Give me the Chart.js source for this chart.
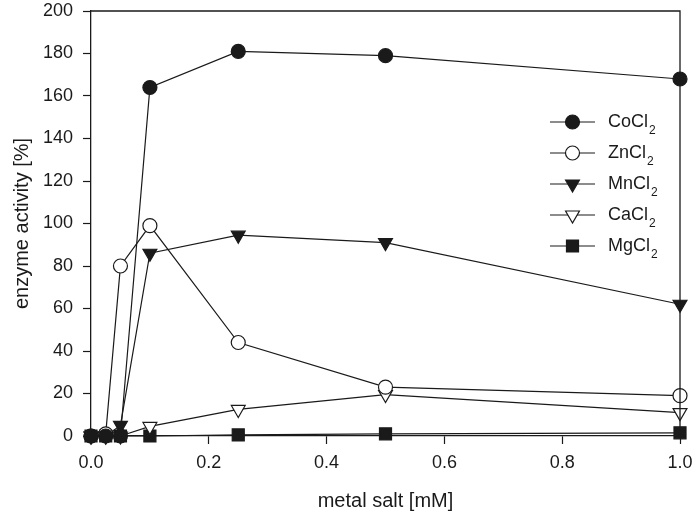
<!DOCTYPE html>
<html lang="en">
<head>
    <title>Enzyme activity vs metal salt</title>
    <script src="https://cdn.jsdelivr.net/npm/chart.js"></script>
    <style>
        html, body { margin: 0; padding: 0; background: #fff; }
        #wrap { width: 698px; height: 516px; }
    </style>
</head>
<body>
    <div id="wrap"><canvas id="myChart" width="698" height="516"></canvas></div>
    <script>
        // metal salt concentration [mM]
        var conc = [0, 0.025, 0.05, 0.1, 0.25, 0.5, 1.0];

        // enzyme activity [%] for each salt
        var coCl2 = [0, 0, 0, 164, 181, 179, 168];
        var znCl2 = [0, 1, 80, 99, 44, 23, 19];
        var mnCl2 = [0, 0, 5, 86, 94.5, 91, 62];
        var caCl2 = [0, 0, 0, 4.5, 12.5, 19.5, 11];
        var mgCl2 = [0, 0, 0, 0, 0.5, 1, 1.5];

        var saltNames = ["CoCl", "ZnCl", "MnCl", "CaCl", "MgCl"];

        var xTicks = [0, 0.2, 0.4, 0.6, 0.8, 1.0];
        var yTicks = [0, 20, 40, 60, 80, 100, 120, 140, 160, 180, 200];

        var FONT = "'Liberation Sans', Arial, Helvetica, sans-serif";
        var INK = "#1a1a1a";

        function pts(ys) {
            return conc.map(function (x, i) { return { x: x, y: ys[i] }; });
        }

        function series(name, ys, style, fill, radius, rot) {
            return {
                label: name,
                data: pts(ys),
                showLine: true,
                borderColor: INK,
                borderWidth: 1.2,
                pointStyle: style,
                pointRadius: radius,
                pointHoverRadius: radius,
                pointRotation: rot,
                pointBackgroundColor: fill,
                pointBorderColor: INK,
                pointBorderWidth: 1.2,
                clip: false
            };
        }

        // frame on top and right of the plot
        var boxPlugin = {
            id: "box",
            afterDraw: function (chart) {
                var a = chart.chartArea, ctx = chart.ctx;
                ctx.save();
                ctx.strokeStyle = INK;
                ctx.lineWidth = 1.3;
                ctx.beginPath();
                ctx.moveTo(a.left, a.top);
                ctx.lineTo(a.right, a.top);
                ctx.lineTo(a.right, a.bottom);
                ctx.stroke();
                ctx.restore();
            }
        };

        // legend: line through marker, name with subscript 2
        var legendPlugin = {
            id: "saltLegend",
            afterDraw: function (chart) {
                var a = chart.chartArea, ctx = chart.ctx;
                var x0 = a.right - 130, x1 = a.right - 85, tx = a.right - 72;
                ctx.save();
                chart.data.datasets.forEach(function (ds, i) {
                    var y = a.top + 111 + 31 * i;
                    ctx.strokeStyle = INK;
                    ctx.lineWidth = 1.2;
                    ctx.beginPath();
                    ctx.moveTo(x0, y);
                    ctx.lineTo(x1, y);
                    ctx.stroke();
                    ctx.fillStyle = ds.pointBackgroundColor;
                    ctx.strokeStyle = INK;
                    ctx.lineWidth = 1.2;
                    Chart.helpers.drawPoint(ctx, {
                        pointStyle: ds.pointStyle,
                        rotation: ds.pointRotation,
                        radius: ds.pointRadius,
                        borderWidth: 1.2
                    }, (x0 + x1) / 2, y);
                    ctx.fillStyle = INK;
                    ctx.textBaseline = "middle";
                    ctx.font = "18px " + FONT;
                    ctx.fillText(saltNames[i], tx, y);
                    var w = ctx.measureText(saltNames[i]).width;
                    ctx.font = "12px " + FONT;
                    ctx.fillText("2", tx + w + 1, y + 9);
                });
                ctx.restore();
            }
        };

        var ctx = document.getElementById("myChart").getContext("2d");
        var myChart = new Chart(ctx, {
            type: "scatter",
            data: {
                datasets: [
                    series("CoCl2", coCl2, "circle", INK, 7, 0),
                    series("ZnCl2", znCl2, "circle", "#ffffff", 7, 0),
                    series("MnCl2", mnCl2, "triangle", INK, 8, 180),
                    series("CaCl2", caCl2, "triangle", "#ffffff", 8, 180),
                    series("MgCl2", mgCl2, "rect", INK, 8.5, 0)
                ]
            },
            options: {
                responsive: false,
                animation: false,
                layout: { padding: { top: 11, right: 18, left: 0, bottom: 0 } },
                plugins: {
                    legend: { display: false },
                    tooltip: { enabled: false }
                },
                scales: {
                    x: {
                        type: "linear",
                        min: 0,
                        max: 1,
                        afterBuildTicks: function (s) {
                            s.ticks = xTicks.map(function (v) { return { value: v }; });
                        },
                        afterFit: function (s) {
                            s.height = 80;
                            s.paddingLeft = 0;
                            s.paddingRight = 0;
                        },
                        grid: {
                            drawOnChartArea: false,
                            drawTicks: true,
                            tickLength: 8,
                            tickColor: INK,
                            tickWidth: 1.2
                        },
                        border: { color: INK, width: 1.3 },
                        ticks: {
                            padding: 8,
                            color: INK,
                            font: { family: FONT, size: 18 },
                            callback: function (v) { return v.toFixed(1); }
                        },
                        title: {
                            display: true,
                            text: "metal salt [mM]",
                            color: INK,
                            font: { family: FONT, size: 20 },
                            padding: { top: 4, bottom: 3 }
                        }
                    },
                    y: {
                        min: 0,
                        max: 200,
                        afterBuildTicks: function (s) {
                            s.ticks = yTicks.map(function (v) { return { value: v }; });
                        },
                        afterFit: function (s) {
                            s.width = 91;
                            s.paddingTop = 0;
                            s.paddingBottom = 0;
                        },
                        grid: {
                            drawOnChartArea: false,
                            drawTicks: true,
                            tickLength: 8,
                            tickColor: INK,
                            tickWidth: 1.2
                        },
                        border: { color: INK, width: 1.3 },
                        ticks: {
                            padding: 10,
                            color: INK,
                            font: { family: FONT, size: 18 }
                        },
                        title: {
                            display: true,
                            text: "enzyme activity [%]",
                            color: INK,
                            font: { family: FONT, size: 20 },
                            padding: { top: 10, bottom: 0 }
                        }
                    }
                }
            },
            plugins: [boxPlugin, legendPlugin]
        });
    </script>
</body>
</html>
